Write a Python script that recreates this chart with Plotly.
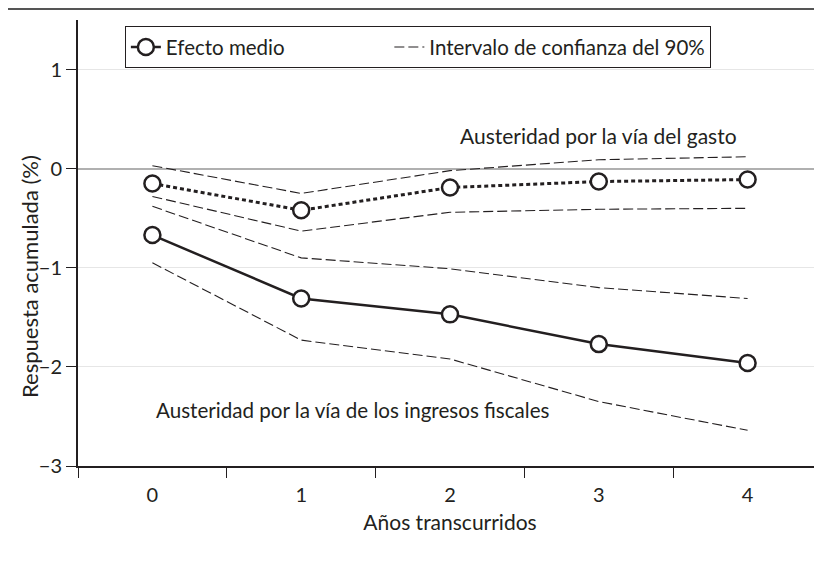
import plotly.graph_objects as go

years = [0, 1, 2, 3, 4]
tick_labels = ["0", "1", "2", "3", "4"]
y_ticks = [-3, -2, -1, 0, 1]
y_tick_labels = ["−3", "−2", "−1", "0", "1"]

gasto_mean = [-0.15, -0.42, -0.19, -0.13, -0.11]
gasto_upper = [0.03, -0.25, -0.02, 0.09, 0.12]
gasto_lower = [-0.28, -0.63, -0.44, -0.41, -0.40]

ingresos_mean = [-0.67, -1.31, -1.47, -1.77, -1.96]
ingresos_upper = [-0.38, -0.90, -1.01, -1.20, -1.31]
ingresos_lower = [-0.95, -1.73, -1.92, -2.35, -2.64]

FONT = "Lato"
INK = "#231f20"
ci_style = dict(color=INK, width=1.1, dash="10px,4px")
marker_style = dict(size=16, color="white", line=dict(color=INK, width=2.5))

fig = go.Figure()

for ys in (gasto_upper, gasto_lower, ingresos_upper, ingresos_lower):
    fig.add_trace(go.Scatter(x=years, y=ys, mode="lines", line=ci_style,
                             showlegend=False, hoverinfo="skip"))

fig.add_trace(go.Scatter(x=years, y=gasto_mean, mode="lines+markers",
                         line=dict(color=INK, width=3, dash="4px,3px"),
                         marker=marker_style, showlegend=False))
fig.add_trace(go.Scatter(x=years, y=ingresos_mean, mode="lines+markers",
                         line=dict(color=INK, width=2.5),
                         marker=marker_style,
                         name="Efecto medio" + "\u00a0" * 19))
fig.add_trace(go.Scatter(x=[None], y=[None], mode="lines", line=ci_style,
                         name="Intervalo de confianza del 90%"))

fig.add_annotation(x=3.0, y=0.33, text="Austeridad por la vía del gasto", showarrow=False,
                   font=dict(family=FONT, size=21, color=INK))
fig.add_annotation(x=1.35, y=-2.435, text="Austeridad por la vía de los ingresos fiscales",
                   showarrow=False, font=dict(family=FONT, size=20.6, color=INK))

# y-axis title
fig.add_annotation(xref="paper", yref="paper", x=-0.0645, y=0.4238, textangle=-90,
                   text="Respuesta acumulada (%)", showarrow=False,
                   xanchor="center", yanchor="middle",
                   font=dict(family=FONT, size=22, color=INK))

# top rule
fig.add_shape(type="line", xref="paper", yref="paper", x0=-70/744, x1=1,
              y0=(458 - 1) / 446, y1=(458 - 1) / 446, line=dict(color="#555", width=2))

fig.update_layout(
    width=814, height=556,
    margin=dict(l=70, r=0, t=12, b=98),
    paper_bgcolor="white", plot_bgcolor="white",
    font=dict(family=FONT, size=20, color=INK),
    legend=dict(orientation="h", x=0.063, y=0.986, xanchor="left", yanchor="top",
                bordercolor=INK, borderwidth=1, bgcolor="white",
                font=dict(family=FONT, size=20.5, color=INK),
                itemwidth=30, tracegroupgap=0),
    xaxis=dict(range=[-0.5, 4.5], tickmode="array", tickvals=years, ticktext=tick_labels,
               ticks="outside", ticklen=10, tickcolor="rgba(0,0,0,0)",
               showgrid=False, zeroline=False, showline=True,
               linecolor=INK, linewidth=2,
               minor=dict(tickmode="linear", tick0=0.5, dtick=1, ticks="outside",
                          ticklen=10, tickcolor=INK, tickwidth=1, showgrid=False),
               title=dict(text="Años transcurridos", font=dict(size=21), standoff=10)),
    yaxis=dict(range=[-3, 1.5], tickmode="array", tickvals=y_ticks,
               ticktext=y_tick_labels,
               ticks="outside", ticklen=10, tickcolor=INK, tickwidth=1,
               showgrid=True, gridcolor="#e6e6e6", gridwidth=1,
               zeroline=True, zerolinecolor="#b0b0b0", zerolinewidth=1.5,
               showline=True, linecolor=INK, linewidth=2),
)

fig.write_html("out.html")
